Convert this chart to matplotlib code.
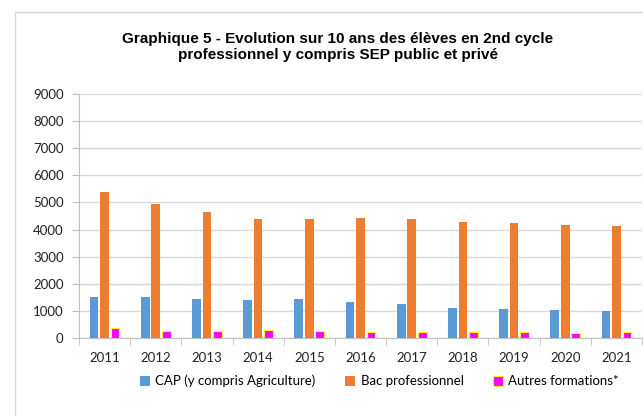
import numpy as np
import matplotlib
matplotlib.use("Agg")
import matplotlib.pyplot as plt
from matplotlib.patches import Rectangle

years = ['2011', '2012', '2013', '2014', '2015', '2016', '2017', '2018', '2019', '2020', '2021']
cap = [1500, 1500, 1450, 1400, 1450, 1330, 1240, 1120, 1070, 1030, 985]
bac = [5400, 4945, 4650, 4390, 4390, 4430, 4390, 4270, 4230, 4180, 4135]
autres = [370, 245, 245, 295, 245, 210, 210, 210, 210, 170, 210]

series_names = ['CAP (y compris Agriculture)', 'Bac professionnel', 'Autres formations*']

fig = plt.figure(figsize=(6.43, 4.16), dpi=100)
# outer chart frame
fig.patches.append(Rectangle((15 / 643, -0.05), 1.0, 1 - 12 / 416 + 0.05,
                             transform=fig.transFigure, fill=False,
                             edgecolor='#d9d9d9', linewidth=1))

ax = fig.add_axes([79 / 643, (416 - 338) / 416, (642 - 79) / 643, (338 - 94) / 416])

x = np.arange(len(years))
w = 0.17
step = 0.205
ax.bar(x - step, cap, w, color='#5b9bd5', label=series_names[0], zorder=3)
ax.bar(x, bac, w, color='#ed7d31', label=series_names[1], zorder=3)
ax.bar(x + step, autres, w, color='#ff00ff', edgecolor='#ffff00', linewidth=0.8,
       label=series_names[2], zorder=3)

ax.set_xlim(-0.5, len(years) - 0.5)
ax.set_ylim(0, 9000)
ax.set_yticks(np.arange(0, 9001, 1000))
ax.yaxis.grid(True, color='#d9d9d9', linewidth=1, zorder=0)
ax.set_xticks(x)
ax.set_xticklabels(years)
ax.set_xticks(np.arange(-0.5, len(years), 1), minor=True)
ax.tick_params(axis='x', which='major', length=0, pad=10)
ax.tick_params(axis='x', which='minor', length=5, color='#bfbfbf', direction='out')
ax.tick_params(axis='y', length=5, color='#bfbfbf', pad=6)
for lab in ax.get_xticklabels() + ax.get_yticklabels():
    lab.set_fontfamily('Lato')
    lab.set_fontsize(9.5)
    lab.set_color('#222222')

for s in ['top', 'right']:
    ax.spines[s].set_visible(False)
ax.spines['left'].set_color('#bfbfbf')
ax.spines['bottom'].set_color('#bfbfbf')

fig.text(0.525, 1 - 47 / 416, 'Graphique 5 - Evolution sur 10 ans des élèves en 2nd cycle\n'
         'professionnel y compris SEP public et privé',
         ha='center', va='center', fontsize=11, fontweight='bold',
         family='Liberation Sans', linespacing=1.2)

leg = fig.legend(loc='center', bbox_to_anchor=(0.59, 1 - 381 / 416), ncol=3,
                 frameon=False, prop={'family': 'Lato', 'size': 9.5},
                 handlelength=0.8, handleheight=0.8, handletextpad=0.4,
                 columnspacing=2.2)

fig.savefig('out.png', dpi=100)
